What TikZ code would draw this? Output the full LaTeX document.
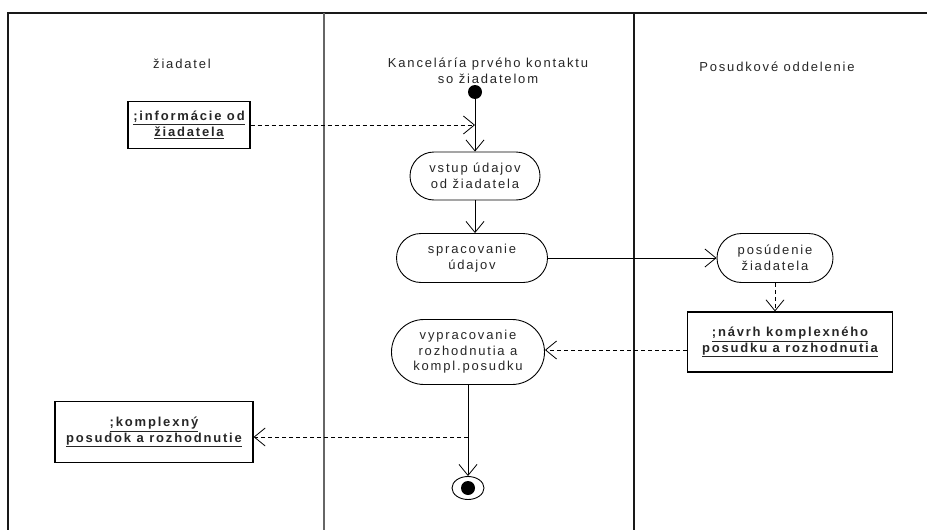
\documentclass[tikz,border=0pt]{standalone}
\usepackage{fontspec}
\setmainfont{Liberation Sans}[LetterSpace=14]
\usetikzlibrary{arrows.meta,shapes.misc,shapes.geometric}
\begin{document}
\begin{tikzpicture}[x=1pt,y=-1pt,
  every node/.style={font=\fontsize{13}{15.5}\selectfont, text=black!85, align=center},
  lane/.style={line width=1.3pt, draw=black!90},
  activity/.style={draw, rounded rectangle, line width=0.9pt, inner sep=0pt},
  objbox/.style={draw, rectangle, line width=1.2pt, inner sep=0pt,
    font=\fontsize{13}{15.5}\selectfont\bfseries},
  flow/.style={line width=0.8pt, -{Straight Barb[length=11pt,width=18pt,line width=0.8pt]}},
  objflow/.style={flow, dash pattern=on 4pt off 3pt}
]
\useasboundingbox (0,0) rectangle (927,530);

% swimlanes
\draw[lane] (8,530) -- (8,13) -- (927,13);
\draw[lane, draw=black!60] (324,13) -- (324,530);
\draw[lane] (634,13) -- (634,530);

\node (lane1) at (182,64) {žiadatel};
\node (lane2) at (488,71) {Kanceláría prvého kontaktu\\so žiadatelom};
\node (lane3) at (777,67) {Posudkové oddelenie};

% activities
\node[circle, fill=black, inner sep=0pt, minimum size=14pt] (init) at (475,92) {};
\node[activity, minimum width=130pt, minimum height=48pt] (vstup) at (475,176) {vstup údajov\\od žiadatela};
\node[activity, minimum width=151pt, minimum height=49pt] (sprac) at (472,258) {spracovanie\\údajov};
\node[activity, minimum width=116pt, minimum height=49pt] (posud) at (775,258) {posúdenie\\žiadatela};
\node[activity, minimum width=153pt, minimum height=65pt] (vyprac) at (468,352) {vypracovanie\\rozhodnutia a\\kompl.posudku};
\node[ellipse, draw, line width=0.9pt, minimum width=32pt, minimum height=23pt, inner sep=0pt] (final) at (468,488) {};
\node[circle, fill=black, inner sep=0pt, minimum size=14pt] (finaldot) at (final.center) {};

% objects
\node[objbox, minimum width=122pt, minimum height=47pt] (info) at (189,125) {\underline{;informácie od}\\\underline{žiadatela}};
\node[objbox, minimum width=205pt, minimum height=60pt] (navrh) at (790,342) {\underline{;návrh komplexného}\\\underline{posudku a rozhodnutia}};
\node[objbox, minimum width=198pt, minimum height=61pt] (kompl) at (154,432) {\underline{;komplexný}\\\underline{posudok a rozhodnutie}};

\coordinate (infoin) at (475,125);
\coordinate (komplout) at (468,437);

% control flow
\draw[flow] (init) -- (vstup.north);
\draw[flow] (vstup.south) -- (vstup.south |- sprac.north);
\draw[flow] (sprac.east) -- (posud.west);
\draw[flow] (vyprac.south) -- (final.north);

% object flow
\draw[objflow] (info.east) -- (infoin);
\draw[objflow] (posud.south) -- (posud.south |- navrh.north);
\draw[objflow] (navrh.west |- 0,350) -- (vyprac.east |- 0,350);
\draw[objflow] (komplout) -- (kompl.east |- komplout);
\end{tikzpicture}
\end{document}
